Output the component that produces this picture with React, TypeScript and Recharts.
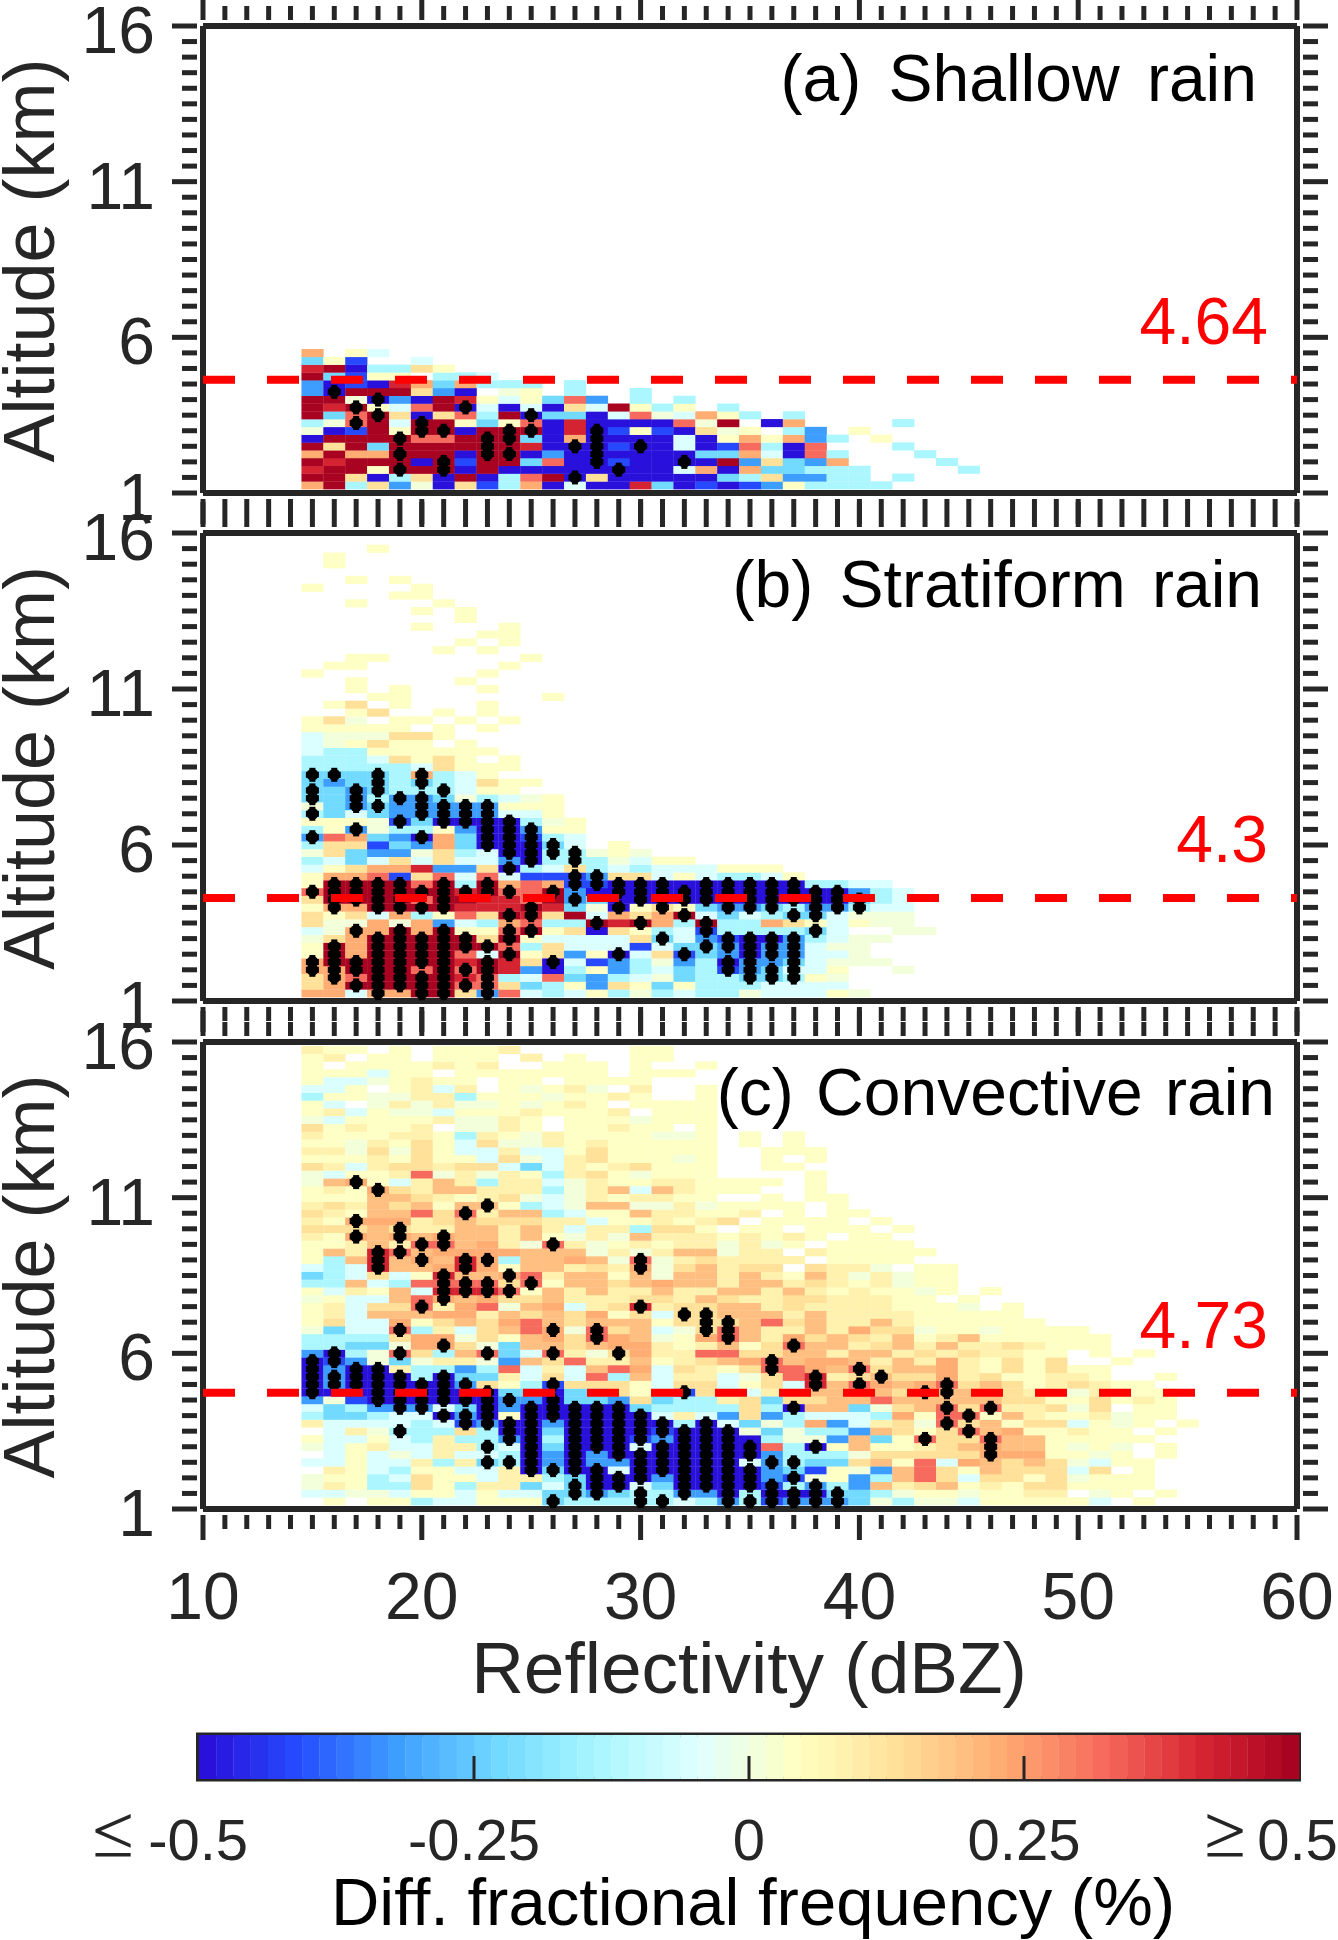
import React from "react";
import {
    ScatterChart,
    Scatter,
    XAxis,
    YAxis,
} from "recharts";

const W = 1338;
const H = 1940;
const INK = "#262626";
const FONT = "'Liberation Sans', Arial, sans-serif";
const PLOT_LEFT = 203;
const PLOT_RIGHT = 1297;

// one letter per cell, first row is the lowest altitude, first letter is 15 dBZ.
// "." = no data, capital letter = cell carries a significance dot
const shallowRows = [
    "ilehczahbeiafaakdababcgeeee",
    "llhaehalaejlAhaaaaadehccee.e",
    "kllgLlLalaaaaaAaafiaiddeee....e",
    "lklllaLblldjaAbaaAalchdci....e",
    "iliiLllaLLacaAaaaaddifaje...e",
    "lhldllllLlkaAAbAafabjeaj...e",
    "alllLjjlLLdaiAaaafagigice.g",
    "zablgLLalLLakAbgbahzg.ec.g",
    "ezJlfLlgdgjakaaaajzl.ai....e",
    "ldjLhahjelAddafjzfige.e",
    "lkLgfjlAfafahflgeg.e",
    "llzAcalkgfgdjc.e.e",
    "cAlllhca.zg.e..e",
    "cabakidieee.e",
    "ldbgg.eef",
    "klaeehg",
    "dgb..f",
    "i.gf",
];

const stratiformRows = [
    "iifIiLLhCjfefgezefeezfffgz",
    "hiLLLLLJJhdegchgdgeeeffff",
    "hIjLLLLkJefjdcefzdeeDDEgz",
    "IILLLjLJLkcaegcefdeBCDFfg..z",
    "ILLLLLLkLkhAfbcezceACcDfzzz",
    "gLiLLLLjfLghcgAfhBdcACCffz",
    "gLiLLLLLLjehfffbfdDCACCfzz",
    "zhiLLLLLhLgffffhDfcBAACefzz",
    "fzIiLiLggJLghahgefBeeeeDf..zz",
    "hzzizicfeijeeLkLieLeeihgfgzz",
    "hghfiegjhLKhlfihiLfdfeDDfzzz",
    "gIiLLLLkkkLkdzAgHgdCCDeCCEff",
    "hLLLLjLlkkjlCdaAAAAAAAAAADef",
    "JLLLLLLKLJjLcaAAAAAAAAAAAcef",
    "gLLLLjLeLijiBBAAAaAAAAAeeff",
    "giijbhjfjfbbBChhfgfeefg",
    "fghiikcchAefhefefffggg",
    "efdfhfhffcAeEezfgg",
    "zhdcczhefAAEEzgz",
    "ehhbdcidAAADf.g",
    "CjidcAidAABef",
    "egCzeegcAACgg",
    "gggzBdAAAAezg",
    "EdfdcCCCCffg",
    "zdCDcCCCCggg",
    "DdCeCCdzefzg",
    "DdCDeeEfgg",
    "dcdDeDefhgg",
    "DDdDeIefg",
    "eeeeefhggg",
    "eeefhghg.g",
    "feegggggg",
    "fzghgg.g",
    "fzzzhhg",
    "ggggg.g.g",
    "ghz.gg.g.g",
    "..gh..g.g",
    ".gh.g...g",
    "...gg......g",
    "..g.g...g",
    "..g....g",
    "g.......g",
    ".gg......g",
    "..gg......g",
    "......g.g",
    ".......g.g",
    "........gg",
    ".....g...g",
    ".......g",
    ".....g.g",
    "..g...g",
    "....gg",
    "g....g",
    "..g.g",
    "",
    ".g",
    ".g",
    "...g",
];

const convectiveRows = [
    ".g.ggeffgggDeeeEEfeCEBCCCdzezzfgggggf.g",
    "ffzzfggfgffdDCdEeCcAeAAADdezggzggmm.zg.g",
    "zmgeehgemmdfDAAfdAAAABeCecnmhngmghhgggg",
    "zggefhggfmmedAAAcAAAAcBzgcenjhfhhghzggg",
    ".mgfeggffmADAAfAAAAAAcdbgzcnjhgnhhhfh.g",
    "ffgffmemDEAcAccAAAAAfCEddhngjfinhnhzfgg",
    ".fgfzfmffeAcAcAAAAAAAceeezhhhhhIiiggzg.g",
    "zfgmffmmEfAdAAAfAAAAAjeAgnggmhnInngzgz.g",
    "gffgfemeeCAeAAABcAAAaezzcndgJhhJnnggggg",
    ".fmzEeeheAAdAAAABAAAzdzeecnhghJniggmgg.g",
    "mffffefBCAAcAAAAAeAfdzeicfmhzJhnghhfgzg.g",
    "eddeffACAgAAAAAAfmfchcefffeigjJgnmggmzgg",
    "fdecCCfdAcAAAAAdeeeeheAnndzhnJhJmmhzh.gg",
    "czbAAAAAACcAddchdeemhdhhnnjnnnnnhhgghgmg",
    "AaaAAAAAAddaddhgfBhefmfnninhNNnhhmmzmggg",
    "ACAAAAAChgeBhhhgfhhfghfKnJiniJhnhgmhmgg",
    "ACAAAeAddmfhfjenfmmfzhjKmhNhhimhggmmg..g",
    "AcAAmeecejfmfnjifhmghJjinJhnnimghghgg",
    "ABczdzmmzcnhjmmngmhniJniinmnmimghgh..g",
    "cAezJhenJdfJmzHimmjjhhnnmnnmhmhmmgg.g.g",
    "eeddziIhzdnnhniimgmnghJnnmhnmnmmhmggg",
    "eeeehiizhgnihJinzgiJnmihnhmngmngggggg",
    "zdffJemfhnjIzJhnfzHJnmmnmihhzggzgggg",
    "ghffighnhijnhnnnghHHnjhnmmnmgggggg",
    "gmfnnniimnhnhighfHHnnnmnmmmmggggg",
    "gmfhhJmijznifmhKmhhnnmhmmmmgggz.g",
    "zgffnjInihhnmmmhhmnhmmhhmmmgg.g",
    "gfmgnfKKKJgnmnmmnmmnnmnmgmggzg.g",
    "eenfejJJJhJgnnhninnmnnmhmgmzgg",
    "defhfgKnnIjmnngnznnmnmgnmzmzgg",
    "fefKnniKignnmhmIzhnmhh.hmmz.gg",
    "genKnInKIenninzJzmhmmmm.gggg",
    "gnmKJniiiinnnzmzmnnzmm.mggggg",
    "ggmnmJJnimzJmzgmgmmzmzg.gggg",
    "mgInInInnmngzmznmmmgmgmg.gg",
    "hhhnHmmnnmnmfmmehhg.gg.ggg.g",
    "mgIiimhnhhhmmfggmgmh.gggg.g",
    "hmgnnjhJmnnefggnmmggm.g.gg",
    "mhmnhngnNgefznnzzmzgggg.g",
    "gggnnhmgmhzfzmgmmgg..g.gg",
    "gmgIhmnnmmmezmnfnmggg..g",
    "znIgfmnmemmfzmggmmgggg.g",
    "zfggmjzmzmgemhgzggg....g",
    "hmfmhhmhhfdfmgmhggg..gg",
    "gggmghggfhzfmhgggzg..g.g",
    "mmzhzhgffmffghggggg..ggg",
    "ggzmghgfhzzmgmggggg.g.g",
    "mgggmmgemgzmggggzzg.g.g",
    "hgmggm.zzmg.ggmgg.g",
    "zfggggmzzmg.gggzggg",
    "gmfgzzfgggmgggm.ggg",
    "gf.zmzmzzgzgmg.gggg",
    "eggzzmmegggzggmg..g",
    "ffg.gmfm.gzgmz.m..g",
    "gffzgmgg.gg.gggg",
    "gggfgg.ggggggg.ggg",
    "g.ggggmgm..ggg.g..g",
    "gm.gg.ggg.m.g..gg",
    "mgg.g.gggm.....gg",
];

const levelValues: Record<string, number> = {
    a: -0.5, b: -0.41, c: -0.32, d: -0.23, e: -0.14, f: -0.05, z: 0,
    g: 0.045, m: 0.09, h: 0.14, n: 0.19, i: 0.23, j: 0.32, k: 0.41, l: 0.5,
};

const colormap = [
    "#290AD8", "#264DFF", "#3FA0FF", "#72D9FF", "#AAF7FF", "#E0FFFF",
    "#FFFFBF", "#FFE099", "#FFAD72", "#F76D5E", "#D82632", "#A50021",
];

const xMajor = [10, 20, 30, 40, 50, 60];
const yMajor = [1, 6, 11, 16];
const xTicks = Array.from({ length: 51 }, (_, i) => 10 + i);
const yTicks = Array.from({ length: 31 }, (_, i) => 1 + i * 0.5);
const barTicks = [-0.25, 0, 0.25];
const barLevels = Array.from({ length: 64 }, (_, i) => -0.5 + (i + 0.5) / 64);

const hex = (s: string, i: number) => parseInt(s.slice(i, i + 2), 16);

const colorOf = (value: number) => {
    const step = Math.min(63, Math.floor((value + 0.5) * 64));
    const t = ((step + 0.5) / 64) * (colormap.length - 1);
    const i = Math.min(colormap.length - 2, Math.floor(t));
    const f = t - i;
    const mix = (p: number) =>
        Math.round(hex(colormap[i], p) * (1 - f) + hex(colormap[i + 1], p) * f);
    return `rgb(${mix(1)},${mix(3)},${mix(5)})`;
};

const buildCells = (rows: string[]) =>
    rows.flatMap((row, r) =>
        row.split("").flatMap((ch, c) =>
            ch === "."
                ? []
                : [{ x: 15 + c, y: 1.25 + r * 0.25, v: levelValues[ch.toLowerCase()] }]
        )
    );

const buildDots = (rows: string[]) =>
    rows.flatMap((row, r) =>
        row.split("").flatMap((ch, c) =>
            ch !== "." && ch === ch.toUpperCase()
                ? [{ x: 15 + c, y: 1.25 + r * 0.25 }]
                : []
        )
    );

type PanelProps = {
    rows: string[];
    top: number;
    bottom: number;
    melting: number;
    title: string;
    titleX: number;
    titleY: number;
    titleGap: number;
    meltingY: number;
    showX?: boolean;
};

const Panel = ({ rows, top, bottom, melting, title, titleX, titleY, titleGap, meltingY, showX }: PanelProps) => {
    const cellW = (PLOT_RIGHT - PLOT_LEFT) / 50;
    const cellH = (bottom - top) / 60;
    const xTick = (side: number, labels: boolean) => (p: any) => {
        const major = xMajor.includes(p.payload.value);
        return (
            <g>
                <line
                    x1={p.x}
                    x2={p.x}
                    y1={p.y}
                    y2={p.y + side * (major ? 25 : 14)}
                    stroke={INK}
                    strokeWidth={5}
                />
                {labels && major && (
                    <text x={p.x} y={1619} textAnchor="middle" fontSize={66} fontFamily={FONT} fill={INK}>
                        {p.payload.value}
                    </text>
                )}
            </g>
        );
    };
    const yTick = (side: number, labels: boolean) => (p: any) => {
        const major = yMajor.includes(p.payload.value);
        return (
            <g>
                <line
                    x1={p.x}
                    x2={p.x + side * (major ? 25 : 15)}
                    y1={p.y}
                    y2={p.y}
                    stroke={INK}
                    strokeWidth={5}
                />
                {labels && major && (
                    <text x={155} y={p.y + 27} textAnchor="end" fontSize={66} fontFamily={FONT} fill={INK}>
                        {p.payload.value}
                    </text>
                )}
            </g>
        );
    };
    return (
        <ScatterChart
            width={W}
            height={H}
            margin={{ top: top - 1, bottom: H - bottom - 1, left: PLOT_LEFT - 1, right: W - PLOT_RIGHT - 1 }}
            style={{ position: "absolute", left: 0, top: 0 }}
        >
            <XAxis
                xAxisId="bottom"
                type="number"
                dataKey="x"
                domain={[10, 60]}
                ticks={xTicks}
                interval={0}
                height={1}
                tickMargin={0}
                tickLine={false}
                axisLine={{ stroke: INK, strokeWidth: 6 }}
                tick={xTick(1, !!showX)}
            />
            <XAxis
                xAxisId="top"
                orientation="top"
                type="number"
                dataKey="x"
                domain={[10, 60]}
                ticks={xTicks}
                interval={0}
                height={1}
                tickMargin={0}
                tickLine={false}
                axisLine={{ stroke: INK, strokeWidth: 6 }}
                tick={xTick(-1, false)}
            />
            <YAxis
                yAxisId="left"
                type="number"
                dataKey="y"
                domain={[1, 16]}
                ticks={yTicks}
                interval={0}
                width={1}
                tickMargin={0}
                tickLine={false}
                axisLine={{ stroke: INK, strokeWidth: 6 }}
                tick={yTick(-1, true)}
            />
            <YAxis
                yAxisId="right"
                orientation="right"
                type="number"
                dataKey="y"
                domain={[1, 16]}
                ticks={yTicks}
                interval={0}
                width={1}
                tickMargin={0}
                tickLine={false}
                axisLine={{ stroke: INK, strokeWidth: 6 }}
                tick={yTick(1, false)}
            />
            {/* keeps the top and right axes alive, draws nothing */}
            <Scatter
                xAxisId="top"
                yAxisId="right"
                data={[{ x: 10, y: 1 }, { x: 60, y: 16 }]}
                isAnimationActive={false}
                shape={() => <g />}
            />
            <Scatter
                xAxisId="bottom"
                yAxisId="left"
                data={buildCells(rows)}
                isAnimationActive={false}
                shape={(p: any) => (
                    <rect
                        x={p.cx - cellW / 2}
                        y={p.cy - cellH / 2}
                        width={cellW + 0.3}
                        height={cellH + 0.3}
                        fill={colorOf(p.payload.v)}
                    />
                )}
            />
            <Scatter
                xAxisId="bottom"
                yAxisId="left"
                data={buildDots(rows)}
                isAnimationActive={false}
                shape={(p: any) => (
                    <g fill="#000">
                        <ellipse cx={p.cx} cy={p.cy} rx={6} ry={6} />
                        <rect x={p.cx - 6.5} y={p.cy - 3} width={13} height={6} />
                        <rect x={p.cx - 3} y={p.cy - 7} width={6} height={14} />
                    </g>
                )}
            />
            <Scatter
                xAxisId="bottom"
                yAxisId="left"
                data={[{ x: 10, y: melting }, { x: 60, y: melting }]}
                isAnimationActive={false}
                line={{ stroke: "#ff0000", strokeWidth: 8, strokeDasharray: "32 32" }}
                shape={() => <g />}
            />
            <text x={titleX} y={titleY} textAnchor="end" fontSize={66} wordSpacing={titleGap} fontFamily={FONT} fill="#000">
                {title}
            </text>
            <text x={1268} y={meltingY} textAnchor="end" fontSize={66} fontFamily={FONT} fill="#ff0000">
                {melting}
            </text>
            <text
                transform={`translate(54 ${(top + bottom) / 2 + 1}) rotate(-90)`}
                textAnchor="middle"
                fontSize={72}
                fontFamily={FONT}
                fill={INK}
            >
                Altitude (km)
            </text>
        </ScatterChart>
    );
};

const Colorbar = () => {
    const barTop = 1735;
    const barBottom = 1779;
    const left = 199;
    const right = 1299;
    const barTick = (p: any) => (
        <g>
            {barTicks.includes(p.payload.value) && (
                <line x1={p.x} x2={p.x} y1={barBottom} y2={1756} stroke={INK} strokeWidth={3} />
            )}
            {barTicks.includes(p.payload.value) && (
                <text x={p.x} y={1860} textAnchor="middle" fontSize={58} fontFamily={FONT} fill={INK}>
                    {p.payload.value}
                </text>
            )}
        </g>
    );
    return (
        <ScatterChart
            width={W}
            height={H}
            margin={{ top: barTop, bottom: H - barBottom - 1, left, right: W - right }}
            style={{ position: "absolute", left: 0, top: 0 }}
        >
            <XAxis
                type="number"
                dataKey="v"
                domain={[-0.5, 0.5]}
                ticks={[-0.5, ...barTicks, 0.5]}
                interval={0}
                height={1}
                tickMargin={0}
                tickLine={false}
                axisLine={false}
                tick={barTick}
            />
            <YAxis type="number" dataKey="y" domain={[0, 1]} hide />
            <Scatter
                data={barLevels.map((v) => ({ v, y: 0.5 }))}
                isAnimationActive={false}
                shape={(p: any) => (
                    <rect
                        x={p.cx - (right - left) / 128}
                        y={barTop}
                        width={(right - left) / 64 + 0.3}
                        height={barBottom - barTop}
                        fill={colorOf(p.payload.v)}
                    />
                )}
            />
            <rect
                x={left - 0.5}
                y={barTop}
                width={right - left}
                height={barBottom - barTop}
                fill="none"
                stroke={INK}
                strokeWidth={5}
            />
            <text x={86} y={1860} fontSize={58} fontFamily={FONT} fill={INK}>
                <tspan fontSize={84} fontFamily="Inter, 'Noto Sans'" fontWeight={200}>≤</tspan>
                <tspan dx={8}>-0.5</tspan>
            </text>
            <text x={1198} y={1860} fontSize={58} fontFamily={FONT} fill={INK}>
                <tspan fontSize={84} fontFamily="Inter, 'Noto Sans'" fontWeight={200}>≥</tspan>
                <tspan dx={5}>0.5</tspan>
            </text>
            <text x={749} y={1693} textAnchor="middle" fontSize={73} fontFamily={FONT} fill={INK}>
                Reflectivity (dBZ)
            </text>
            <text x={753} y={1925} textAnchor="middle" fontSize={67} fontFamily={FONT} fill="#000">
                Diff. fractional frequency (%)
            </text>
        </ScatterChart>
    );
};

export default function App() {
    return (
        <div style={{ position: "absolute", left: 0, top: 0, width: W, height: H, background: "#fff" }}>
            <Panel rows={shallowRows} top={26} bottom={493} melting={4.64} title="(a) Shallow rain" titleX={1257} titleY={101} titleGap={9} meltingY={344} />
            <Panel rows={stratiformRows} top={533} bottom={1001} melting={4.3} title="(b) Stratiform rain" titleX={1262} titleY={607} titleGap={8} meltingY={862} />
            <Panel rows={convectiveRows} top={1042} bottom={1509} melting={4.73} title="(c) Convective rain" titleX={1275} titleY={1115} titleGap={4} meltingY={1348} showX />
            <Colorbar />
        </div>
    );
}
